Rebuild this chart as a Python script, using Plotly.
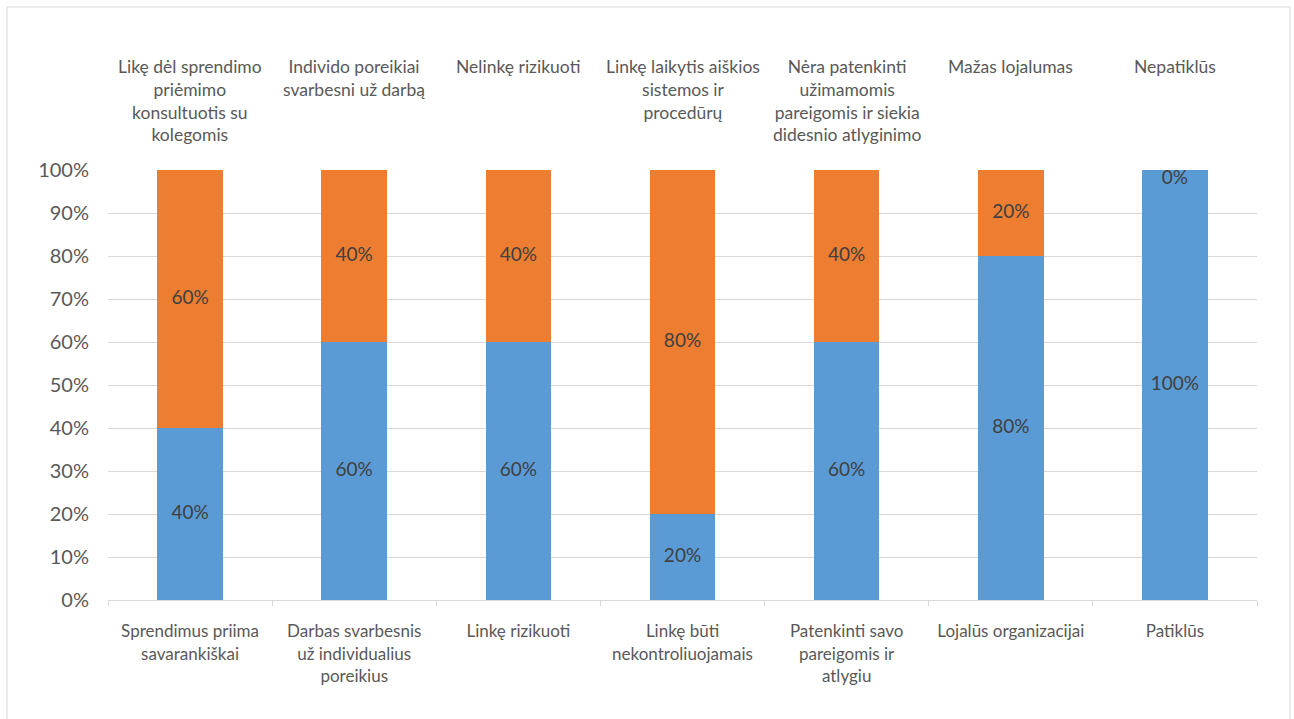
import plotly.graph_objects as go

bottom_labels = [
    "Sprendimus priima<br>savarankiškai",
    "Darbas svarbesnis<br>už individualius<br>poreikius",
    "Linkę rizikuoti",
    "Linkę būti<br>nekontroliuojamais",
    "Patenkinti savo<br>pareigomis ir<br>atlygiu",
    "Lojalūs organizacijai",
    "Patiklūs",
]
top_labels = [
    "Likę dėl sprendimo<br>priėmimo<br>konsultuotis su<br>kolegomis",
    "Individo poreikiai<br>svarbesni už darbą",
    "Nelinkę rizikuoti",
    "Linkę laikytis aiškios<br>sistemos ir<br>procedūrų",
    "Nėra patenkinti<br>užimamomis<br>pareigomis ir siekia<br>didesnio atlyginimo",
    "Mažas lojalumas",
    "Nepatiklūs",
]
blue_values = [40, 60, 60, 20, 60, 80, 100]
orange_values = [60, 40, 40, 80, 40, 20, 0]

BLUE = "#5B9BD5"
ORANGE = "#ED7D31"
TXT = "#595959"
LBL = "#404040"
FONT = "Lato"

cats = bottom_labels

fig = go.Figure()
fig.add_trace(go.Bar(x=cats, y=blue_values, marker=dict(color=BLUE, line=dict(width=0)),
                     width=0.4, hoverinfo="skip"))
fig.add_trace(go.Bar(x=cats, y=orange_values, marker=dict(color=ORANGE, line=dict(width=0)),
                     width=0.4, hoverinfo="skip"))

# data labels
lx, ly, lt, lp = [], [], [], []
for c, b, o in zip(cats, blue_values, orange_values):
    lx.append(c); ly.append(b / 2); lt.append(f"{b}%"); lp.append("middle center")
    if o == 0:
        lx.append(c); ly.append(b); lt.append(f"{o}%"); lp.append("bottom center")
    else:
        lx.append(c); ly.append(b + o / 2); lt.append(f"{o}%"); lp.append("middle center")
fig.add_trace(go.Scatter(x=lx, y=ly, text=lt, mode="text", textposition=lp,
                         textfont=dict(family=FONT, size=19, color=LBL), hoverinfo="skip",
                         cliponaxis=False))

for i, t in enumerate(top_labels):
    fig.add_annotation(x=i, y=1.27, xref="x", yref="paper", text=t, showarrow=False,
                       xanchor="center", yanchor="top", align="center",
                       font=dict(family=FONT, size=17.5, color=TXT))

# chart border
L, R, T, B = 108, 37, 170, 119
W, H = 1294, 719
pw, ph = W - L - R, H - T - B
def px_to_paper_x(p): return (p - L) / pw
def px_to_paper_y(p): return (H - B - p) / ph
fig.add_shape(type="rect", xref="paper", yref="paper",
              x0=px_to_paper_x(7), x1=px_to_paper_x(1290),
              y0=px_to_paper_y(725), y1=px_to_paper_y(7),
              line=dict(color="#D9D9D9", width=1), fillcolor="rgba(0,0,0,0)", layer="below")

fig.update_layout(
    width=W, height=H,
    margin=dict(l=L, r=R, t=T, b=B),
    barmode="stack", bargap=0.6,
    showlegend=False,
    plot_bgcolor="white", paper_bgcolor="white",
    font=dict(family=FONT, color=TXT),
)
fig.update_xaxes(
    type="category", categoryorder="array", categoryarray=cats,
    range=[-0.5, len(cats) - 0.5],
    showline=True, linecolor="#D9D9D9", linewidth=1,
    ticks="outside", tickson="boundaries", ticklen=5, tickcolor="#D9D9D9",
    showgrid=False, tickfont=dict(family=FONT, size=17, color=TXT),
    ticklabelstandoff=16, tickangle=0,
)
fig.update_yaxes(
    range=[0, 100], tickvals=list(range(0, 101, 10)),
    ticktext=[f"{v}%" for v in range(0, 101, 10)],
    showgrid=True, gridcolor="#D9D9D9", gridwidth=1,
    showline=False, zeroline=False, ticks="",
    tickfont=dict(family=FONT, size=20, color=TXT),
    ticklabelstandoff=18,
)

fig.write_html("out.html")
